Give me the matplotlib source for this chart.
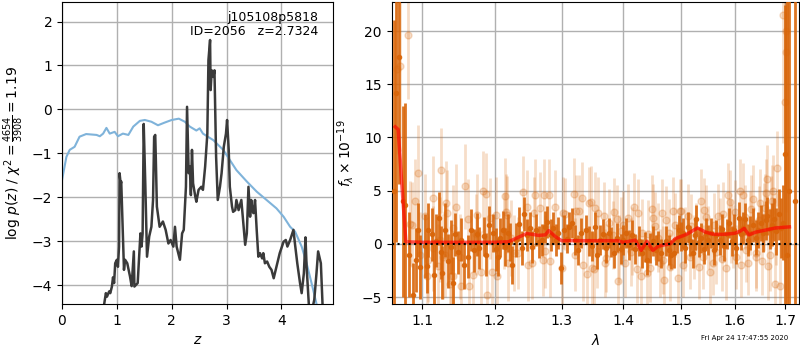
import numpy as np
import matplotlib
matplotlib.use('Agg')
import matplotlib.pyplot as plt
from matplotlib.ticker import FixedLocator, FixedFormatter, NullLocator

# ---- left panel: p(z) and chi2 curves ----
z_chi = [0.0, 0.08, 0.14, 0.23, 0.32, 0.44, 0.63, 0.69, 0.75, 0.81, 0.87, 0.96, 1.02, 1.11,
         1.21, 1.30, 1.42, 1.51, 1.63, 1.75, 1.87, 2.0, 2.13, 2.24, 2.33, 2.45, 2.51, 2.57,
         2.76, 2.94, 3.06, 3.18, 3.37, 3.55, 3.73, 3.91, 4.04, 4.16, 4.25, 4.37, 4.46, 4.55,
         4.64, 4.72]
chi_val = [-1.61, -1.08, -0.92, -0.85, -0.62, -0.56, -0.58, -0.61, -0.55, -0.42, -0.55, -0.51,
           -0.61, -0.55, -0.58, -0.39, -0.26, -0.24, -0.28, -0.36, -0.30, -0.24, -0.21, -0.28,
           -0.39, -0.48, -0.43, -0.55, -0.70, -0.92, -1.15, -1.38, -1.64, -1.87, -2.06, -2.25,
           -2.44, -2.67, -2.78, -3.12, -3.50, -3.95, -4.42, -4.9]

z_pz = [0.77, 0.80, 0.82, 0.86, 0.88, 0.91, 0.93, 0.95, 0.97, 1.00, 1.02, 1.04, 1.05, 1.07,
        1.08, 1.13, 1.15, 1.19, 1.24, 1.27, 1.31, 1.32, 1.38, 1.41, 1.43, 1.45, 1.47, 1.49,
        1.52, 1.55, 1.59, 1.63, 1.66, 1.68, 1.70, 1.71, 1.73, 1.78, 1.84, 1.89, 1.94, 1.98,
        2.03, 2.06, 2.09, 2.15, 2.19, 2.22, 2.26, 2.28, 2.31, 2.33, 2.35, 2.37, 2.39, 2.43,
        2.45, 2.49, 2.54, 2.57, 2.61, 2.65, 2.67, 2.70, 2.71, 2.73, 2.76, 2.78, 2.81, 2.84,
        2.88, 2.91, 2.95, 2.99, 3.01, 3.04, 3.06, 3.10, 3.12, 3.16, 3.18, 3.22, 3.27, 3.34,
        3.37, 3.40, 3.43, 3.45, 3.47, 3.49, 3.52, 3.55, 3.58, 3.61, 3.65, 3.67, 3.70, 3.74,
        3.78, 3.82, 3.86, 3.91, 3.97, 4.04, 4.08, 4.11, 4.16, 4.22, 4.25, 4.29, 4.34, 4.37,
        4.41, 4.44, 4.46, 4.50, 4.52, 4.60, 4.64, 4.67, 4.72, 4.75, 4.78]
pz_val = [-4.42, -4.18, -4.26, -4.14, -4.18, -4.03, -3.82, -3.95, -3.50, -3.42, -3.58, -3.12,
          -1.45, -1.70, -1.64, -3.65, -3.42, -3.50, -3.80, -4.02, -3.23, -4.03, -3.95, -3.27,
          -2.82, -3.12, -2.82, -0.33, -1.76, -3.35, -2.89, -2.67, -2.06, -0.62, -0.58, -1.08,
          -2.21, -2.67, -2.55, -2.74, -3.05, -2.97, -3.12, -2.67, -3.12, -3.42, -2.82, -2.74,
          -1.76, 0.06, -1.45, -1.30, -1.95, -0.92, -1.68, -1.98, -2.10, -1.83, -1.76, -1.83,
          -1.30, -0.55, 1.12, 1.58, 0.44, 0.89, 0.74, 0.89, -1.08, -2.06, -1.76, -1.45, -0.85,
          -0.55, -0.24, -0.92, -1.76, -2.21, -2.33, -2.29, -2.06, -2.29, -2.06, -3.08, -2.82,
          -1.76, -2.44, -2.06, -2.29, -2.36, -2.06, -2.74, -3.35, -3.27, -3.39, -3.27, -3.50,
          -3.46, -3.58, -3.65, -3.84, -3.58, -3.27, -3.01, -2.97, -3.12, -2.97, -2.74, -3.08,
          -3.50, -3.95, -4.18, -3.73, -2.91, -3.58, -4.42, -4.8, -4.33, -3.73, -3.23, -3.50,
          -4.42, -4.95]

# ---- right panel: spectrum ----
# fine grism points (dark)
wave_a = [1.0635, 1.066, 1.0695, 1.0745, 1.078,
          1.083, 1.0883, 1.0913, 1.095, 1.097, 1.1036, 1.106, 1.108, 1.1124, 1.1159, 1.119,
          1.1226, 1.125, 1.127, 1.130, 1.1346, 1.138, 1.1414, 1.1437, 1.1482, 1.1528, 1.157,
          1.1619, 1.1665, 1.170, 1.1742, 1.178, 1.184, 1.188, 1.1911, 1.1968, 1.201, 1.2049,
          1.208, 1.2112, 1.215, 1.2184, 1.222, 1.2257, 1.2306, 1.2355, 1.239, 1.243,
          1.247, 1.251, 1.255, 1.261, 1.265, 1.2705, 1.274, 1.2781, 1.283, 1.287, 1.2908,
          1.295, 1.2987, 1.3038, 1.308, 1.312, 1.317, 1.321, 1.326, 1.330, 1.3385, 1.343,
          1.348, 1.353, 1.357, 1.3608, 1.366, 1.371, 1.376, 1.380, 1.385, 1.390, 1.3954,
          1.400, 1.405, 1.410, 1.415, 1.420, 1.426, 1.431, 1.436, 1.4402, 1.445, 1.450, 1.455,
          1.460, 1.465, 1.4726, 1.478, 1.482, 1.4871, 1.492, 1.496,
          1.500, 1.5037, 1.508, 1.512, 1.517, 1.521, 1.525, 1.528, 1.532, 1.537, 1.541, 1.545,
          1.550, 1.555, 1.560, 1.565, 1.571, 1.575, 1.580, 1.585, 1.589, 1.594, 1.599, 1.603,
          1.607, 1.612, 1.616, 1.620, 1.625, 1.630, 1.635, 1.640, 1.645, 1.650, 1.655, 1.660,
          1.663, 1.668, 1.672, 1.676, 1.680, 1.686, 1.690, 1.695, 1.700, 1.704, 1.708, 1.7187]
flux_a = [5.0, 14.2, 17.6, 4.0, 3.7,
          -1.0, -4.8, -1.5, 1.3, -2.2, -0.2, -2.1, 1.3, 0.9, -2.9, 0.3,
          2.4, -0.8, -2.7, 1.3, -1.6, -0.3, -3.7, 0.9, -0.8, 0.4, -2.0,
          -1.2, 1.3, -0.6, 0.9, -0.4, 0.7, -1.0, 1.8, 1.0, -0.5, -1.2,
          0.6, 1.3, -0.3, 1.0, 0.2, -2.0, 0.4, 1.9, -0.4, 2.8,
          0.8, 1.5, -0.3, 1.35, 0.2, 0.4, 1.6, 2.1, 0.8, 1.5, 0.4,
          1.0, -2.3, 1.35, 0.5, 1.6, 2.0, 0.4, -0.6, 1.0, 1.35, 0.3,
          -0.2, 1.6, -1.0, 0.4, 0.9, -0.4, 1.0, 0.2, -0.9, 0.6, -0.5,
          0.4, 1.0, -0.1, 0.8, -0.5, 0.3, -0.9, -0.3, -1.5, -0.4, 0.3, -0.6,
          -0.2, -0.9, 0.25, -0.6, -1.0, -0.85, 0.5, 1.35,
          0.7, 1.0, -0.4, 1.6, 0.3, -0.9, 0.8, 2.3, 0.2, 0.55, -0.5, 1.0,
          0.4, 1.0, -0.6, 0.8, 0.4, 1.4, -0.2, 0.9, 2.0, 0.3, 1.3, -0.4,
          2.4, 0.9, 1.5, 2.3, 0.4, 1.0, 1.8, 0.6, 1.3, 2.0, 1.0, 2.2,
          2.6, 1.4, 1.8, 2.3, 1.2, 2.8, 1.5, 2.0, 8.4, -1.0, 5.0, 4.0]
err_a = [16, 14, 12, 9, 9.5,
         4, 3, 3, 2.5, 3, 3, 2.5, 2.5, 2.5, 3, 2.5,
         2.5, 2.5, 2.5, 2.5, 2.5, 2.5, 2.5, 2.0, 2.0, 2.0, 2.2,
         2.0, 2.0, 2.0, 2.0, 2.0, 1.8, 2.0, 1.8, 1.8, 2.0, 1.8,
         1.8, 1.8, 1.8, 1.8, 1.8, 1.8, 1.6, 1.6, 1.6, 1.6,
         1.5, 1.5, 1.5, 1.5, 1.5, 1.5, 1.5, 1.5, 1.5, 1.5, 1.5,
         1.5, 1.5, 1.4, 1.4, 1.4, 1.4, 1.4, 1.4, 1.4, 1.4, 1.4,
         1.4, 1.4, 1.4, 1.4, 1.4, 1.4, 1.4, 1.4, 1.4, 1.4, 1.4,
         1.4, 1.4, 1.4, 1.4, 1.4, 1.4, 1.4, 1.4, 1.4, 1.4, 1.4, 1.4,
         1.4, 1.4, 1.4, 1.4, 1.4, 1.4, 1.4, 1.4,
         1.4, 1.4, 1.4, 1.4, 1.4, 1.4, 1.4, 1.4, 1.4, 1.4, 1.4, 1.4,
         1.4, 1.4, 1.4, 1.4, 1.4, 1.4, 1.4, 1.4, 1.4, 1.4, 1.5, 1.5,
         1.5, 1.5, 1.5, 1.5, 1.5, 1.6, 1.6, 1.6, 1.7, 1.7, 1.8, 1.8,
         1.8, 1.9, 2.0, 2.0, 2.2, 2.4, 2.8, 3.5, 14, 30, 35, 40]

# other-orient points (light)
wave_b = [1.0675, 1.0710, 1.0817, 1.0840, 1.0905, 1.0947, 1.1036, 1.1058, 1.1137, 1.1145,
          1.1234, 1.1247, 1.1300, 1.1314, 1.1368, 1.1413, 1.1459, 1.1505, 1.1574, 1.1619,
          1.1640, 1.1737, 1.1808, 1.1831, 1.1879, 1.1888, 1.1926, 1.2023, 1.2037, 1.2144,
          1.2169, 1.2190, 1.2341, 1.2416, 1.2467, 1.2543, 1.2594, 1.2670, 1.2721, 1.2747,
          1.2798, 1.2824, 1.2902, 1.3006, 1.3058, 1.3189, 1.3210, 1.3268, 1.3322, 1.3403,
          1.3428, 1.3509, 1.3536, 1.3563, 1.3671, 1.3698, 1.3752, 1.3820, 1.3890, 1.3907,
          1.3960, 1.4028, 1.4083, 1.4150, 1.4223, 1.4250, 1.4320, 1.4393, 1.4450, 1.4507,
          1.4537, 1.4600, 1.4653, 1.4681, 1.4700, 1.4780, 1.4857, 1.4946, 1.5007, 1.5080,
          1.5157, 1.5188, 1.5280, 1.5371, 1.5401, 1.5460, 1.5524, 1.5600, 1.5650, 1.5711,
          1.5780, 1.5838, 1.5869, 1.5901, 1.5960, 1.6029, 1.6093, 1.6157, 1.6222, 1.6290,
          1.6351, 1.6418, 1.6484, 1.6560, 1.6617, 1.6630, 1.6640, 1.6700, 1.6750, 1.6784,
          1.6818, 1.6885, 1.6952, 1.6986, 1.7010, 1.7020,
          1.0861, 1.0970, 1.1079, 1.1213, 1.1280, 1.1326, 1.1390, 1.1416, 1.1520, 1.1693,
          1.1750, 1.1953, 1.2132, 1.2181, 1.2231, 1.2279, 1.2490, 1.2580, 1.2715, 1.3024,
          1.3234, 1.3339, 1.3474, 1.3490, 1.3581, 1.3718, 1.3850, 1.3930, 1.4000, 1.4120,
          1.4180, 1.4300, 1.4420, 1.4480, 1.4620, 1.4740, 1.4800, 1.4900, 1.4980, 1.5040,
          1.5120, 1.5230, 1.5320, 1.5420, 1.5500, 1.5580, 1.5680, 1.5760, 1.5930, 1.6000,
          1.6120, 1.6190, 1.6260, 1.6320, 1.6400, 1.6460, 1.6530, 1.6590, 1.6680, 1.6730,
          1.6800]
flux_b = [16.4, 16.7, 19.6, 1.9, 4.0, 6.7, 2.6, -3.0, 4.3, -0.4,
          0.4, 6.9, -1.0, 3.8, -3.8, -3.0, 3.5, -1.2, 5.4, 2.3,
          -4.0, 0.9, -2.6, 4.95, 4.7, -4.8, 2.4, 2.7, -3.0, 4.5,
          3.0, -1.8, -0.85, 4.9, 3.5, -1.8, 4.6, 3.4, 4.6, -0.7,
          4.6, -1.6, 3.5, -2.3, 2.8, 4.7, -1.0, 3.1, 4.3, -2.8,
          3.8, -2.35, 3.4, -0.7, 2.6, -1.8, 2.0, 0.8, 2.3, -3.45,
          1.2, -1.8, 2.4, 0.3, -2.35, 2.9, 1.0, -2.7, -2.3, 2.4,
          1.7, 0.6, 2.9, -1.5, -3.35, 1.0, 3.1, -3.2, 3.1, 0.5,
          -1.2, 1.7, 0.8, 4.0, -1.2, 2.5, -2.6, 1.8, -0.8, 1.35,
          2.8, -2.3, 4.6, 3.9, 0.7, -1.2, 4.95, 4.6, -0.55, 2.0,
          4.2, -1.2, 3.8, 2.5, 4.8, 6.1, -2.1, 3.0, 4.95, -3.8,
          7.1, -4.0, 21.5, 13.3, 20.0, 18.0,
          1.8, -1.0, -1.5, -2.1, -1.2, 2.9, -3.05, 1.5, -4.0, -2.9,
          2.75, -2.6, 1.2, 2.75, 0.55, -0.85, -1.95, 2.9, -1.5, 2.9,
          3.1, -1.95, 3.9, -2.25, 2.9, -1.3, 3.0, -0.5, 1.8, -0.8,
          3.5, -3.0, 0.9, 3.3, -1.8, 2.2, -2.2, 1.8, 3.1, -2.0,
          2.6, -0.3, -2.2, 3.2, 0.6, -1.8, 2.6, -1.4, 1.2, 3.0,
          -2.0, 2.5, -1.8, 3.3, -0.9, 2.2, -1.6, 3.4, -1.0, 4.0,
          1.4]
err_b = [8, 8, 6, 4, 4, 4.5, 4.0, 4.0, 4.0, 4.0,
         4.0, 4.0, 4.0, 4.0, 4.0, 4.0, 4.0, 4.0, 4.0, 3.8,
         3.8, 3.8, 3.8, 3.8, 3.8, 3.8, 3.8, 3.6, 3.6, 3.6,
         3.6, 3.6, 3.4, 3.4, 3.4, 3.4, 3.4, 3.4, 3.4, 3.4,
         3.4, 3.4, 3.4, 3.4, 3.4, 3.4, 3.4, 3.4, 3.4, 3.4,
         3.4, 3.4, 3.4, 3.4, 3.2, 3.2, 3.2, 3.2, 3.2, 3.2,
         3.2, 3.2, 3.2, 3.2, 3.2, 3.2, 3.2, 3.2, 3.2, 3.2,
         3.2, 3.2, 3.2, 3.2, 3.2, 3.2, 3.2, 3.2, 3.0, 3.0,
         3.0, 3.0, 3.0, 3.0, 3.0, 3.0, 3.0, 3.0, 3.0, 3.0,
         3.0, 3.0, 3.0, 3.0, 3.0, 3.0, 3.0, 3.0, 3.0, 3.0,
         3.2, 3.2, 3.2, 3.2, 3.2, 3.2, 3.2, 3.4, 3.4, 3.5,
         3.5, 4.0, 12, 15, 15, 15,
         4.0, 4.0, 4.0, 4.0, 4.0, 4.0, 4.0, 4.0, 4.0, 3.8,
         3.8, 3.6, 3.6, 3.6, 3.6, 3.6, 3.4, 3.4, 3.4, 3.4,
         3.4, 3.4, 3.4, 3.4, 3.4, 3.2, 3.2, 3.2, 3.2, 3.2,
         3.2, 3.2, 3.2, 3.2, 3.2, 3.2, 3.2, 3.0, 3.0, 3.0,
         3.0, 3.0, 3.0, 3.0, 3.0, 3.0, 3.0, 3.0, 3.0, 3.0,
         3.0, 3.0, 3.0, 3.2, 3.2, 3.2, 3.2, 3.2, 3.4, 3.4,
         3.4]

# best-fit model
wave_m = [1.0650, 1.0688, 1.0732, 1.0787, 1.10, 1.15, 1.20, 1.22, 1.2467, 1.265, 1.275,
          1.280, 1.290, 1.300, 1.35, 1.39, 1.40, 1.42, 1.43, 1.44, 1.45, 1.46, 1.48, 1.49,
          1.51, 1.53, 1.545, 1.56, 1.58, 1.60, 1.61, 1.618, 1.627, 1.64, 1.66, 1.68, 1.708]
flux_m = [11.0, 10.75, 5.9, 0.2, 0.15, 0.15, 0.15, 0.2, 0.98, 0.8, 0.85,
          1.25, 0.7, 0.3, 0.3, 0.3, 0.15, 0.35, -0.6, 0.25, -0.6, -0.2, 0.0, 0.5,
          0.9, 1.5, 1.1, 0.9, 0.9, 1.0, 1.2, 1.45, 0.85, 1.1, 1.3, 1.5, 1.6]

lam_ticks = [1.1, 1.2, 1.3, 1.4, 1.5, 1.6, 1.7]

col = '#d9660a'

fig = plt.figure(figsize=(8, 3.5), dpi=100)
ax1 = fig.add_axes([0.0775, 0.131, 0.339, 0.864])
ax2 = fig.add_axes([0.4896, 0.131, 0.5093, 0.864])

# left
ax1.plot(z_chi, chi_val, color='#7fb3da', lw=1.5)
ax1.plot(z_pz, pz_val, color='#3a3a3a', lw=1.8)
ax1.set_xlim(0, 4.945)
ax1.set_ylim(-4.43, 2.45)
ax1.set_xticks([0, 1, 2, 3, 4])
ax1.set_yticks([-4, -3, -2, -1, 0, 1, 2])
ax1.grid(color='#b0b0b0', lw=1)
ax1.set_xlabel(r'$z$')
ax1.set_ylabel(r'log $p(z)$ / $\chi^2=\frac{4654}{3908}=1.19$')
ax1.text(0.945, 0.968, 'j105108p5818\nID=2056   z=2.7324', transform=ax1.transAxes,
         ha='right', va='top', fontsize=9, linespacing=1.1)

# right
ax2.errorbar(wave_b, flux_b, yerr=err_b, fmt='o', color=col, alpha=0.22, ms=5,
             elinewidth=2, capsize=0, zorder=2)
ax2.errorbar(wave_a, flux_a, yerr=err_a, fmt='o', color=col, alpha=0.9, ms=3,
             elinewidth=2, capsize=0, zorder=3)
ax2.plot(wave_m, flux_m, color='red', alpha=0.65, lw=2.5, zorder=4)
ax2.axhline(0, color='k', ls=':', lw=1.5, zorder=5)
ax2.set_xscale('log')
ax2.set_xlim(1.0605, 1.728)
ax2.xaxis.set_major_locator(FixedLocator(lam_ticks))
ax2.xaxis.set_major_formatter(FixedFormatter([str(t) for t in lam_ticks]))
ax2.xaxis.set_minor_locator(NullLocator())
ax2.set_ylim(-5.66, 22.75)
ax2.set_yticks([-5, 0, 5, 10, 15, 20])
ax2.grid(color='#b0b0b0', lw=1)
ax2.set_xlabel(r'$\lambda$')
ax2.set_ylabel(r'$f_\lambda\times10^{-19}$')

fig.text(0.985, 0.025, 'Fri Apr 24 17:47:55 2020', ha='right', va='bottom', fontsize=5)

fig.savefig('out.png', dpi=100)
